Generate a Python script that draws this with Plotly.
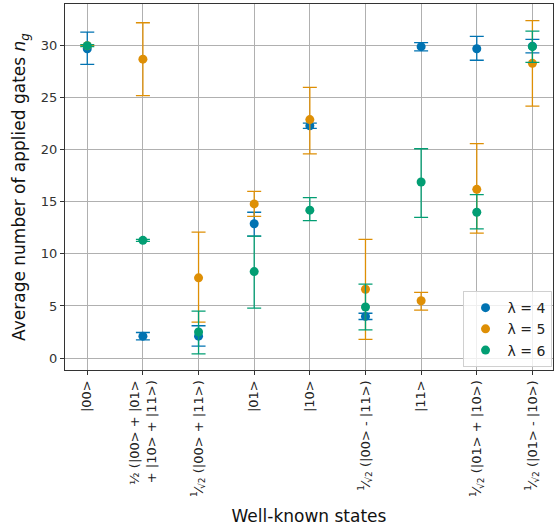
import plotly.graph_objects as go

categories = [
    "|00>",
    "½ (|00> + |01><br>+ |10> + |11>)",
    "<sup>1</sup>⁄<sub>√2</sub> (|00> + |11>)",
    "|01>",
    "|10>",
    "<sup>1</sup>⁄<sub>√2</sub> (|00> - |11>)",
    "|11>",
    "<sup>1</sup>⁄<sub>√2</sub> (|01> + |10>)",
    "<sup>1</sup>⁄<sub>√2</sub> (|01> - |10>)",
]

lam4_mean = [29.7, 2.1, 2.1, 12.9, 22.3, 4.0, 29.9, 29.7, 29.95]
lam4_plus = [1.6, 0.35, 1.0, 1.1, 0.25, 0.3, 0.4, 1.2, 0.65]
lam4_minus = [1.5, 0.35, 0.95, 1.2, 0.25, 0.3, 0.4, 1.1, 0.65]

lam5_mean = [30.0, 28.7, 7.7, 14.8, 22.9, 6.6, 5.5, 16.2, 28.3]
lam5_plus = [0.0, 3.5, 4.4, 1.2, 3.1, 4.8, 0.8, 4.4, 4.1]
lam5_minus = [0.0, 3.5, 4.25, 1.2, 3.3, 4.8, 0.9, 4.2, 4.1]

lam6_mean = [30.0, 11.3, 2.5, 8.3, 14.2, 4.9, 16.9, 14.0, 29.9]
lam6_plus = [0.1, 0.1, 2.0, 3.4, 1.2, 2.2, 3.2, 1.7, 1.5]
lam6_minus = [0.1, 0.1, 2.1, 3.5, 1.0, 2.2, 3.4, 1.6, 1.5]

series = [
    ("λ = 4", lam4_mean, lam4_plus, lam4_minus, "#0173b2"),
    ("λ = 5", lam5_mean, lam5_plus, lam5_minus, "#de8f05"),
    ("λ = 6", lam6_mean, lam6_plus, lam6_minus, "#029e73"),
]

xpos = list(range(len(categories)))

fig = go.Figure()
for name, mean, plus, minus, color in series:
    fig.add_trace(go.Scatter(
        x=xpos, y=mean, mode="markers", name=name,
        marker=dict(color=color, size=9),
        error_y=dict(type="data", symmetric=False, array=plus, arrayminus=minus,
                     color=color, thickness=1.3, width=7),
    ))

fig.update_layout(
    width=554, height=526,
    margin=dict(l=65, r=1, t=4, b=156, autoexpand=False),
    plot_bgcolor="white", paper_bgcolor="white",
    font=dict(family="DejaVu Sans", color="#222"),
    showlegend=True,
    legend=dict(x=0.997, y=0.008, xanchor="right", yanchor="bottom",
                bgcolor="rgba(255,255,255,0.8)", bordercolor="#d0d0d0", borderwidth=1,
                font=dict(size=14, color="#222"), itemwidth=34, tracegroupgap=2),
)
fig.update_xaxes(
    tickmode="array", tickvals=xpos, ticktext=categories, tickangle=-90,
    range=[-0.4, 8.37], showgrid=True, gridcolor="#b0b0b0", gridwidth=1,
    showline=True, linecolor="#333", linewidth=1.2, mirror=True,
    ticks="outside", ticklen=4, tickcolor="#333",
    tickfont=dict(size=13, color="#222"), automargin=False,
    title=dict(text="Well-known states", font=dict(size=17, color="#111"), standoff=18),
    zeroline=False,
)
fig.update_yaxes(
    range=[-1.15, 34.0], tickvals=[0, 5, 10, 15, 20, 25, 30],
    showgrid=True, gridcolor="#b0b0b0", gridwidth=1,
    showline=True, linecolor="#333", linewidth=1.2, mirror=True,
    ticks="outside", ticklen=4, tickcolor="#333",
    tickfont=dict(size=13, color="#333"), automargin=False,
    title=dict(text="Average number of applied gates <i>n</i><sub><i>g</i></sub>",
               font=dict(size=17, color="#111"), standoff=10),
    zeroline=False,
)

fig.write_html("out.html", config={"displayModeBar": False},
               post_script="document.body.style.margin='0';document.body.style.overflow='hidden';")
